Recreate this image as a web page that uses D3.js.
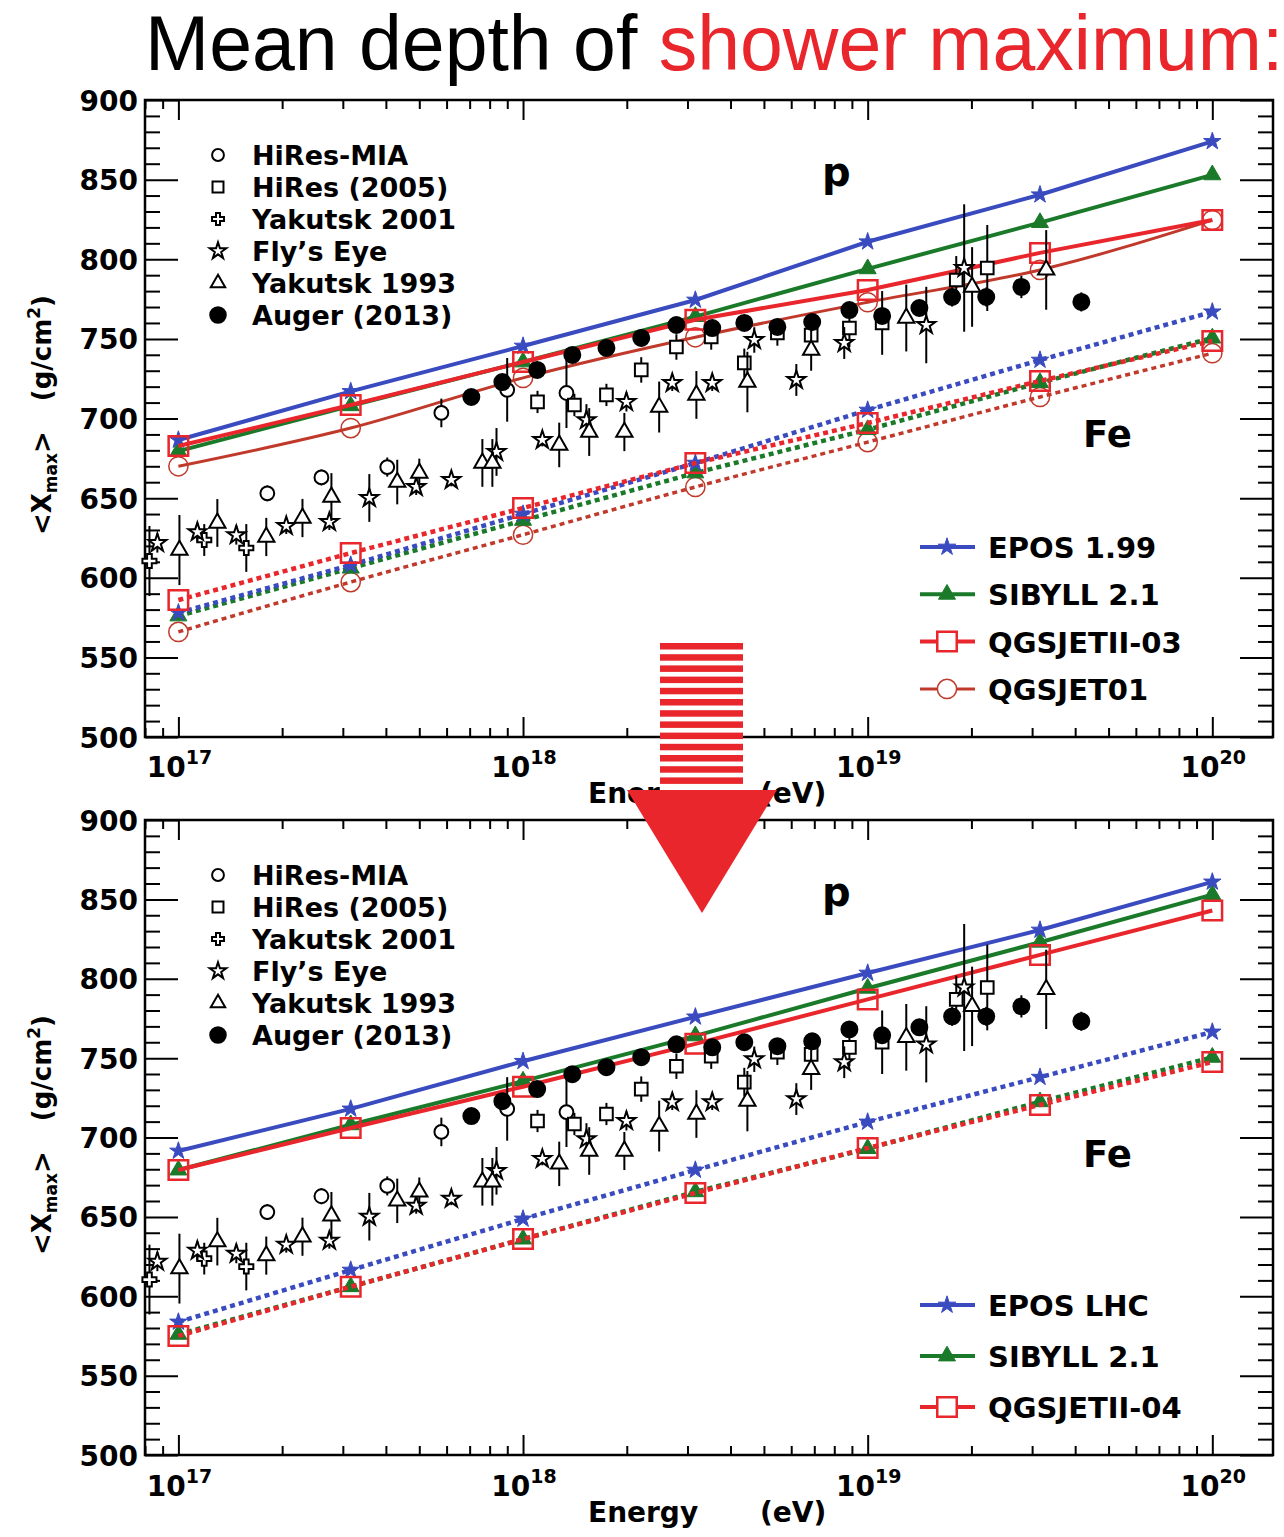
<!DOCTYPE html>
<html>
<head>
<meta charset="utf-8">
<script src="https://cdn.jsdelivr.net/npm/d3@7"></script>
<style>
  html, body { margin: 0; padding: 0; background: #fff; }
  svg { display: block; }
  .bold { font-family: "DejaVu Sans", sans-serif; font-weight: bold; }
</style>
</head>
<body>
<div id="chart"></div>
<script>
// energies where the air-shower models were evaluated (log10 E/eV)
const modelLgE = [17, 17.5, 18, 18.5, 19, 19.5, 20];

// upper panel (pre-LHC tunes), <Xmax> in g/cm2
const epos199P  = [686.5, 717, 745.5, 774.4, 811, 840.5, 874];
const epos199Fe = [578, 608, 640, 672, 705.3, 736.7, 767];
const sibyllP   = [679.5, 708, 735.5, 764, 794, 823, 853];
const sibyllFe  = [576, 606, 636, 665.8, 693, 722.5, 750.5];
const qgsII03P  = [682.7, 708.5, 735.5, 762, 780.7, 804, 824.6];
const qgsII03Fe = [586, 615.5, 643.8, 672, 697.2, 723.6, 748.7];
const qgs01P    = [670, 694, 725.5, 751, 773, 793.3, 824.6];
const qgs01Fe   = [566, 597.3, 627, 657, 685.2, 713.5, 741];

// lower panel (LHC tunes)
const eposLhcP  = [691.5, 718, 748, 776, 803.6, 830.7, 861];
const eposLhcFe = [583.8, 616.5, 648.7, 679.5, 709.8, 738, 766.5];
const qgsII04P  = [679.5, 706, 732, 759, 787, 815, 843];
const qgsII04Fe = [575, 606, 636, 665, 693.4, 720.5, 747.6];

// measurements: [log10 E, <Xmax>, error]
const hiresMia = [[17.258, 653, 5], [17.415, 663, 5], [17.606, 669.5, 6], [17.763, 703.5, 9],
  [17.954, 718, 20], [18.126, 716, 22]];
const hires2005 = [[18.042, 710.4, 7], [18.149, 708.5, 7], [18.242, 714.8, 7], [18.343, 730.5, 8],
  [18.445, 744.9, 8], [18.546, 751.2, 8], [18.642, 734.9, 9], [18.738, 753.7, 8], [18.836, 752.4, 8],
  [18.947, 756.8, 12], [19.042, 760, 20], [19.257, 787, 15], [19.347, 794.5, 27]];
const yakutsk2001 = [[16.916, 610.5, 22], [17.075, 623.7, 10], [17.197, 618.7, 15]];
const flysEye = [[16.939, 621.8, 6], [17.055, 628.7, 6], [17.168, 626.8, 6], [17.313, 632.5, 5],
  [17.438, 635, 5], [17.554, 650.1, 15], [17.69, 657, 5], [17.792, 661.4, 4], [17.923, 679, 15],
  [18.056, 686.5, 4], [18.184, 699, 10], [18.3, 710.4, 6], [18.433, 722.3, 5], [18.549, 722.3, 5],
  [18.671, 749.3, 8], [18.793, 724.2, 10], [18.932, 747.4, 10], [19.17, 758.7, 24], [19.28, 794.5, 40]];
const yakutsk1993 = [[17.003, 617.4, 22], [17.113, 634.4, 15], [17.255, 625.6, 12], [17.36, 637.5, 12],
  [17.444, 650.7, 15], [17.635, 660.1, 14], [17.699, 665.8, 9], [17.882, 672.1, 15], [17.911, 672.1, 15],
  [18.105, 683.4, 14], [18.192, 691.5, 15], [18.294, 691.5, 12], [18.395, 707.2, 16], [18.503, 714.8, 15],
  [18.651, 722.9, 19], [18.836, 743, 13], [19.112, 763.1, 21], [19.303, 782.6, 25], [19.518, 793.3, 25]];
const auger2013 = [[17.85, 713.5, 3], [17.94, 722.9, 3], [18.041, 730.5, 3], [18.143, 739.9, 3],
  [18.242, 744.3, 3], [18.343, 750.6, 3], [18.445, 758.7, 3], [18.549, 756.8, 3], [18.642, 760, 3],
  [18.738, 757.5, 3], [18.839, 760.6, 4], [18.947, 768.1, 4], [19.042, 764.4, 4], [19.15, 769.4, 5],
  [19.245, 776.3, 6], [19.344, 776.3, 6], [19.446, 782.6, 7], [19.62, 773.2, 6]];

const E_MIN = 8.0e16, E_MAX = 1.5e20;
const X_MIN = 500, X_MAX = 900;
const LEFT = 145, RIGHT = 1273;

const BLUE = '#3a4bc0', GREEN = '#1b7a2a', RED = '#e8262b', DARKRED = '#c0392b';

const models = {
  epos199: { name: 'EPOS 1.99', color: BLUE, sym: d3.symbolStar, size: 95, fill: true, w: 4, p: epos199P, fe: epos199Fe },
  eposLhc: { name: 'EPOS LHC', color: BLUE, sym: d3.symbolStar, size: 95, fill: true, w: 4, p: eposLhcP, fe: eposLhcFe },
  sibyll:  { name: 'SIBYLL 2.1', color: GREEN, sym: d3.symbolTriangle, size: 125, fill: true, w: 4, p: sibyllP, fe: sibyllFe },
  qgsII03: { name: 'QGSJETII-03', color: RED, sym: d3.symbolSquare, size: 380, fill: false, w: 4, p: qgsII03P, fe: qgsII03Fe },
  qgsII04: { name: 'QGSJETII-04', color: RED, sym: d3.symbolSquare, size: 380, fill: false, w: 4, p: qgsII04P, fe: qgsII04Fe },
  qgs01:   { name: 'QGSJET01', color: DARKRED, sym: d3.symbolCircle, size: 290, fill: false, w: 3, curve: true, p: qgs01P, fe: qgs01Fe }
};

const datasets = [
  { name: 'HiRes-MIA', data: hiresMia, sym: d3.symbolCircle, size: 150, legSize: 110, fill: '#fff' },
  { name: 'HiRes (2005)', data: hires2005, sym: d3.symbolSquare, size: 160, legSize: 120, fill: '#fff' },
  { name: 'Yakutsk 2001', data: yakutsk2001, sym: d3.symbolCross, size: 110, legSize: 80, fill: '#fff' },
  { name: 'Fly\u2019s Eye', data: flysEye, sym: d3.symbolStar, size: 100, legSize: 85, fill: '#fff' },
  { name: 'Yakutsk 1993', data: yakutsk1993, sym: d3.symbolTriangle, size: 115, legSize: 90, fill: '#fff' },
  { name: 'Auger (2013)', data: auger2013, sym: d3.symbolCircle, size: 200, legSize: 190, fill: '#000' }
];

const panels = [
  { top: 100, bottom: 737, models: [models.qgs01, models.sibyll, models.epos199, models.qgsII03],
    legend: [models.epos199, models.sibyll, models.qgsII03, models.qgs01], legY: 547, legStep: 47.3,
    tickLabelY: 777, axisTitleY: 803 },
  { top: 820, bottom: 1455, models: [models.sibyll, models.eposLhc, models.qgsII04],
    legend: [models.eposLhc, models.sibyll, models.qgsII04], legY: 1305, legStep: 51,
    tickLabelY: 1496, axisTitleY: 1522 }
];

const svg = d3.select('#chart').append('svg')
  .attr('width', 1284).attr('height', 1537)
  .style('background', '#fff');

// title
const title = svg.append('text')
  .attr('x', 145).attr('y', 70)
  .style('font-family', '"Liberation Sans", Arial, sans-serif')
  .style('font-size', '77px');
title.append('tspan').attr('fill', '#000').text('Mean depth of ');
title.append('tspan').attr('fill', RED).text('shower maximum:');

function drawPanel(p) {
  const x = d3.scaleLog().domain([E_MIN, E_MAX]).range([LEFT, RIGHT]);
  const y = d3.scaleLinear().domain([X_MIN, X_MAX]).range([p.bottom, p.top]);
  const g = svg.append('g');
  const ex = lg => x(Math.pow(10, lg));

  // ticks
  const yMajor = d3.range(X_MIN, X_MAX + 1, 50);
  const yMinor = d3.range(X_MIN, X_MAX + 1, 10).filter(v => v % 50 !== 0);
  const xAll = x.ticks();
  const isMajor = v => Math.abs(Math.log10(v) - Math.round(Math.log10(v))) < 1e-6;
  const xMajor = xAll.filter(isMajor), xMinor = xAll.filter(v => !isMajor(v));

  const axes = [
    [d3.axisLeft(y).tickValues(yMajor).tickSize(-33).tickPadding(7), `translate(${LEFT},0)`, true],
    [d3.axisLeft(y).tickValues(yMinor).tickSize(-15).tickFormat(''), `translate(${LEFT},0)`],
    [d3.axisRight(y).tickValues(yMajor).tickSize(-33).tickFormat(''), `translate(${RIGHT},0)`],
    [d3.axisRight(y).tickValues(yMinor).tickSize(-15).tickFormat(''), `translate(${RIGHT},0)`],
    [d3.axisBottom(x).tickValues(xMajor).tickSize(-20).tickFormat(''), `translate(0,${p.bottom})`],
    [d3.axisBottom(x).tickValues(xMinor).tickSize(-9).tickFormat(''), `translate(0,${p.bottom})`],
    [d3.axisTop(x).tickValues(xMajor).tickSize(-20).tickFormat(''), `translate(0,${p.top})`],
    [d3.axisTop(x).tickValues(xMinor).tickSize(-9).tickFormat(''), `translate(0,${p.top})`]
  ];
  axes.forEach(([ax, tr, labels]) => {
    const a = g.append('g').attr('transform', tr).call(ax);
    a.select('.domain').remove();
    a.selectAll('line').attr('stroke', '#000').attr('stroke-width', 2);
    if (labels) {
      a.selectAll('text').attr('class', 'bold').attr('font-size', 28)
        .attr('font-family', null).attr('fill', '#000').attr('dy', '0.36em');
    }
  });

  // frame
  g.append('rect').attr('x', LEFT).attr('y', p.top)
    .attr('width', RIGHT - LEFT).attr('height', p.bottom - p.top)
    .attr('fill', 'none').attr('stroke', '#000').attr('stroke-width', 2.5);

  // x tick labels 10^n
  xMajor.forEach(v => {
    const t = g.append('text').attr('class', 'bold').attr('x', x(v) + 1).attr('y', p.tickLabelY)
      .attr('text-anchor', 'middle').attr('font-size', 28);
    t.append('tspan').text('10');
    t.append('tspan').attr('dy', -13).attr('font-size', 19).text(Math.round(Math.log10(v)));
  });

  // axis titles
  const xt = g.append('text').attr('class', 'bold').attr('y', p.axisTitleY).attr('font-size', 28);
  xt.append('tspan').attr('x', 588).text('Energy');
  xt.append('tspan').attr('x', 760).text('(eV)');

  const yc = p.top + 315;
  const yt = g.append('text').attr('class', 'bold').attr('font-size', 26)
    .attr('text-anchor', 'middle')
    .attr('transform', `translate(51,${yc}) rotate(-90)`);
  yt.append('tspan').text('<X');
  yt.append('tspan').attr('font-size', 17).attr('dy', 6).text('max');
  yt.append('tspan').attr('dy', -6).text('>');
  yt.append('tspan').attr('dx', 30).text('(g/cm');
  yt.append('tspan').attr('font-size', 17).attr('dy', -11).text('2');
  yt.append('tspan').attr('dy', 11).text(')');

  // models: solid proton, dotted iron
  const sym = d3.symbol();
  p.models.forEach(m => {
    [['p', null], ['fe', '5,4']].forEach(([key, dash]) => {
      const pts = modelLgE.map((lg, i) => [ex(lg), y(m[key][i])]);
      const line = d3.line().curve(m.curve ? d3.curveMonotoneX : d3.curveLinear);
      g.append('path').attr('d', line(pts))
        .attr('fill', 'none').attr('stroke', m.color)
        .attr('stroke-width', dash ? (m.curve ? 3.5 : 4.5) : m.w)
        .attr('stroke-dasharray', dash);
      g.selectAll(null).data(pts).enter().append('path')
        .attr('transform', d => `translate(${d[0]},${d[1]})`)
        .attr('d', sym.type(m.sym).size(m.size)())
        .attr('fill', m.fill ? m.color : 'none')
        .attr('stroke', m.color).attr('stroke-width', m.fill ? 1 : (m.curve ? 1.5 : 2.5));
    });
  });

  // measurements
  datasets.forEach(ds => {
    g.selectAll(null).data(ds.data).enter().append('line')
      .attr('x1', d => ex(d[0])).attr('x2', d => ex(d[0]))
      .attr('y1', d => y(d[1] - d[2])).attr('y2', d => y(d[1] + d[2]))
      .attr('stroke', '#000').attr('stroke-width', 2);
    g.selectAll(null).data(ds.data).enter().append('path')
      .attr('transform', d => `translate(${ex(d[0])},${y(d[1])})`)
      .attr('d', sym.type(ds.sym).size(ds.size)())
      .attr('fill', ds.fill).attr('stroke', '#000').attr('stroke-width', 2);
  });

  // p / Fe labels
  g.append('text').attr('class', 'bold').attr('x', 822).attr('y', p.top + 86)
    .attr('font-size', 40).text('p');
  g.append('text').attr('class', 'bold').attr('x', 1083).attr('y', p.top + 347)
    .attr('font-size', 37).text('Fe');

  // data legend
  datasets.forEach((ds, i) => {
    const cy = p.top + 55 + i * 32;
    g.append('path').attr('transform', `translate(218,${cy})`)
      .attr('d', sym.type(ds.sym).size(ds.legSize)())
      .attr('fill', ds.fill).attr('stroke', '#000').attr('stroke-width', 2);
    g.append('text').attr('class', 'bold').attr('x', 252).attr('y', cy + 10)
      .attr('font-size', 27).text(ds.name);
  });

  // model legend
  p.legend.forEach((m, i) => {
    const cy = p.legY + i * p.legStep;
    g.append('line').attr('x1', 920).attr('x2', 975).attr('y1', cy).attr('y2', cy)
      .attr('stroke', m.color).attr('stroke-width', m.w);
    g.append('path').attr('transform', `translate(947,${cy})`)
      .attr('d', sym.type(m.sym).size(m.size)())
      .attr('fill', m.fill ? m.color : '#fff')
      .attr('stroke', m.color).attr('stroke-width', m.fill ? 1 : (m.curve ? 1.5 : 2.5));
    g.append('text').attr('class', 'bold').attr('x', 988).attr('y', cy + 11)
      .attr('font-size', 29).text(m.name);
  });
}

panels.forEach(drawPanel);

// big red arrow between the panels
const arrow = svg.append('g');
arrow.append('rect').attr('x', 660).attr('y', 641).attr('width', 83).attr('height', 149).attr('fill', '#fff');
d3.range(13).forEach(i => {
  arrow.append('rect').attr('x', 660).attr('y', 643 + i * 11.2)
    .attr('width', 83).attr('height', 6.5).attr('fill', RED);
});
arrow.append('path').attr('d', 'M627,790 L777,790 L702,913 Z').attr('fill', RED);
</script>
</body>
</html>
